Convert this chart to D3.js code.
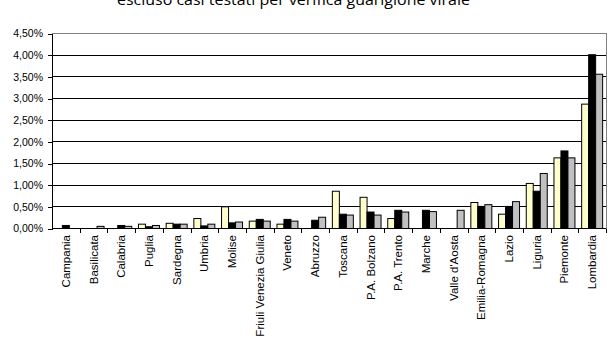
<!DOCTYPE html>
<html>
<head>
<meta charset="utf-8">
<script src="https://cdn.jsdelivr.net/npm/d3@7"></script>
<style>
  body { margin: 0; background: #fff; }
  svg { display: block; }
</style>
</head>
<body>
<svg id="chart" width="616" height="346"></svg>
<script>
// regioni, ordinate come nel grafico originale
var categories = ["Campania", "Basilicata", "Calabria", "Puglia", "Sardegna", "Umbria", "Molise",
    "Friuli Venezia Giulia", "Veneto", "Abruzzo", "Toscana", "P.A. Bolzano", "P.A. Trento", "Marche",
    "Valle d'Aosta", "Emilia-Romagna", "Lazio", "Liguria", "Piemonte", "Lombardia"];

// valori in percentuale
var serieGialla = [0, 0, 0, 0.10, 0.12, 0.23, 0.50, 0.17, 0.10, 0, 0.86, 0.72, 0.23, 0, 0, 0.60, 0.33, 1.04, 1.63, 2.87];
var serieNera   = [0.07, 0, 0.07, 0.04, 0.10, 0.06, 0.13, 0.21, 0.21, 0.19, 0.33, 0.38, 0.42, 0.42, 0, 0.51, 0.51, 0.86, 1.79, 4.01];
var serieGrigia = [0, 0.05, 0.05, 0.07, 0.10, 0.10, 0.15, 0.17, 0.17, 0.26, 0.31, 0.31, 0.38, 0.39, 0.42, 0.55, 0.62, 1.27, 1.63, 3.56];

var yTicks = [0, 0.5, 1, 1.5, 2, 2.5, 3, 3.5, 4, 4.5];
var titolo = "escluso casi testati per verifica guarigione virale";

var series = [
    { key: "a", values: serieGialla, fill: "#ffffcc" },
    { key: "b", values: serieNera, fill: "#000000" },
    { key: "c", values: serieGrigia, fill: "#c0c0c0" }
];

var svg = d3.select("#chart");
// margini dell'area del grafico (non usare "top": e' gia' window.top)
var plotL = 52, plotR = 606, plotT = 33.5, plotB = 228.5;

var x0 = d3.scaleBand().domain(categories).range([plotL, plotR]).paddingInner(0).paddingOuter(0);
var x1 = d3.scaleBand().domain(series.map(function(s) { return s.key; }))
    .range([0, x0.bandwidth()]).paddingInner(0).paddingOuter(0.48);
var y = d3.scaleLinear().domain([0, 4.5]).range([plotB, plotT]);

var itLocale = d3.formatLocale({ decimal: ",", thousands: ".", grouping: [3], currency: ["", "€"] });
var fmt = function(d) { return itLocale.format(".2f")(d) + "%"; };

// titolo (tagliato in alto come nell'originale)
svg.append("text")
    .attr("x", 293.5).attr("y", 5)
    .attr("text-anchor", "middle")
    .attr("font-family", "Open Sans, sans-serif")
    .attr("font-size", 14)
    .attr("textLength", 353)
    .attr("lengthAdjust", "spacingAndGlyphs")
    .attr("fill", "#000")
    .text(titolo);

// griglia
svg.append("g")
    .attr("shape-rendering", "crispEdges")
    .selectAll("line")
    .data(yTicks.filter(function(d) { return d > 0 && d < 4.5; }))
    .enter().append("line")
    .attr("x1", plotL).attr("x2", plotR)
    .attr("y1", function(d) { return y(d); })
    .attr("y2", function(d) { return y(d); })
    .attr("stroke", "#000").attr("stroke-width", 1);

// bordo area del grafico (alto e destra)
svg.append("path")
    .attr("d", "M" + plotL + "," + plotT + "H" + (plotR + 0.5) + "V" + plotB)
    .attr("fill", "none").attr("stroke", "#808080").attr("stroke-width", 1)
    .attr("shape-rendering", "crispEdges");

// barre
var gruppi = svg.append("g").selectAll("g")
    .data(categories)
    .enter().append("g")
    .attr("transform", function(d) { return "translate(" + x0(d) + ",0)"; });

gruppi.selectAll("rect")
    .data(function(d, i) {
        return series.map(function(s) { return { key: s.key, value: s.values[i], fill: s.fill }; })
            .filter(function(v) { return v.value > 0; });
    })
    .enter().append("rect")
    .attr("x", function(d) { return x1(d.key); })
    .attr("width", x1.bandwidth())
    .attr("y", function(d) { return y(d.value); })
    .attr("height", function(d) { return plotB - y(d.value); })
    .attr("fill", function(d) { return d.fill; })
    .attr("stroke", "#000").attr("stroke-width", 1);

// asse y
var yAxis = d3.axisLeft(y).tickValues(yTicks).tickFormat(fmt).tickSize(4).tickPadding(5);
var gy = svg.append("g").attr("transform", "translate(" + plotL + ",0)").call(yAxis);
gy.select(".domain").attr("stroke", "#000").attr("shape-rendering", "crispEdges");
gy.selectAll(".tick line").attr("stroke", "#000").attr("shape-rendering", "crispEdges");
gy.selectAll("text")
    .attr("font-family", "Liberation Sans, Arial, sans-serif")
    .attr("font-size", 10.5)
    .attr("fill", "#000");

// asse x: linea base e tacche fra le categorie
var gx = svg.append("g").attr("shape-rendering", "crispEdges");
gx.append("line")
    .attr("x1", plotL).attr("x2", plotR)
    .attr("y1", plotB).attr("y2", plotB)
    .attr("stroke", "#000");
gx.selectAll(".tacca")
    .data(categories)
    .enter().append("line")
    .attr("class", "tacca")
    .attr("x1", function(d) { return Math.round(x0(d) + x0.step()) + 0.5; })
    .attr("x2", function(d) { return Math.round(x0(d) + x0.step()) + 0.5; })
    .attr("y1", plotB).attr("y2", plotB + 4)
    .attr("stroke", "#000");

// etichette x ruotate
svg.append("g").selectAll("text")
    .data(categories)
    .enter().append("text")
    .attr("transform", function(d) {
        return "translate(" + (x0(d) + x0.bandwidth() / 2 + 4) + "," + (plotB + 6.5) + ") rotate(-90)";
    })
    .attr("text-anchor", "end")
    .attr("font-family", "Liberation Sans, Arial, sans-serif")
    .attr("font-size", 11.5)
    .attr("fill", "#000")
    .text(function(d) { return d; });
</script>
</body>
</html>
